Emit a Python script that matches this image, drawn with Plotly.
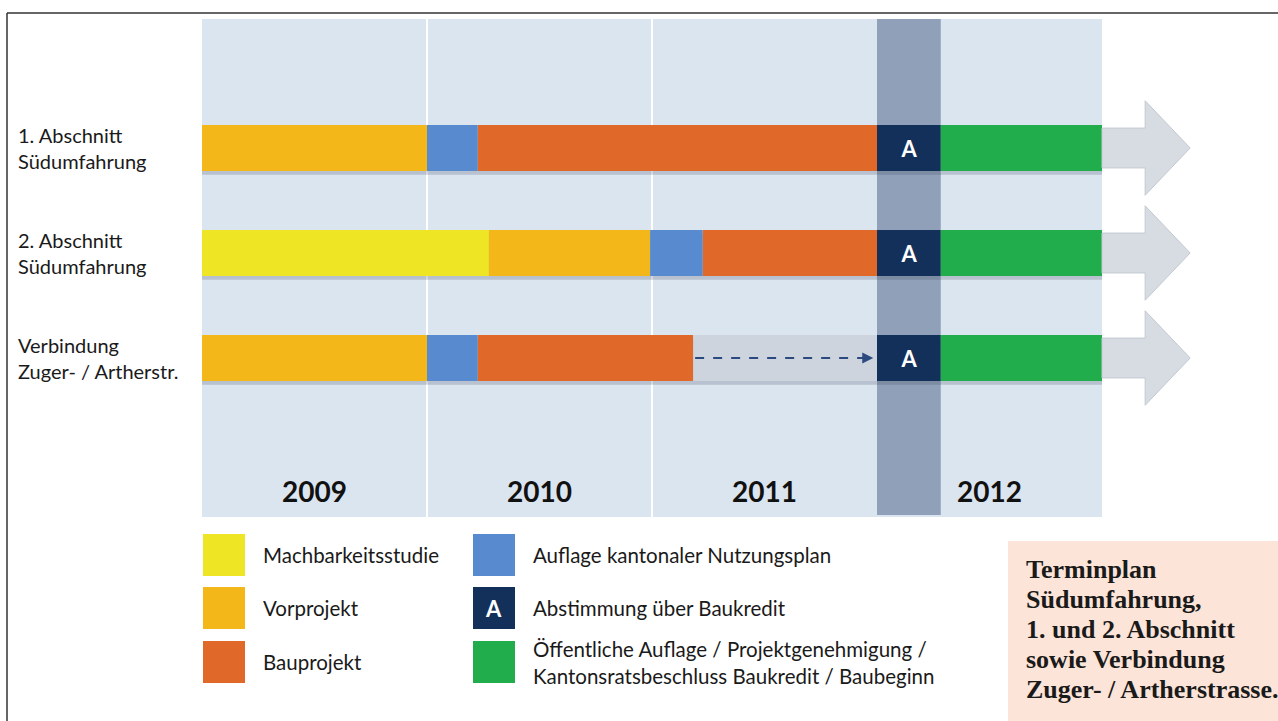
import plotly.graph_objects as go

# ---------------- data ----------------
row_labels = ["1. Abschnitt<br>Südumfahrung",
              "2. Abschnitt<br>Südumfahrung",
              "Verbindung<br>Zuger- / Artherstr."]
years = ["2009", "2010", "2011", "2012"]
year_start_month = [0, 12, 24, 36]

phase_keys = ["Machbarkeit", "Vorprojekt", "Bauprojekt", "Auflage", "Abstimmung", "Oeffentlich", "Warten"]
phase_labels = {
    "Machbarkeit": "Machbarkeitsstudie",
    "Vorprojekt": "Vorprojekt",
    "Bauprojekt": "Bauprojekt",
    "Auflage": "Auflage kantonaler Nutzungsplan",
    "Abstimmung": "Abstimmung über Baukredit",
    "Oeffentlich": "Öffentliche Auflage / Projektgenehmigung /<br>Kantonsratsbeschluss Baukredit / Baubeginn",
}
phase_colors = {
    "Machbarkeit": "#eee625",
    "Vorprojekt": "#f4b71a",
    "Bauprojekt": "#e0692a",
    "Auflage": "#578ace",
    "Abstimmung": "#13305a",
    "Oeffentlich": "#21ad4c",
    "Warten": "#cdd4de",
}

# segments (months since Jan 2009)
seg_row = [0, 0, 0, 0, 0,
           1, 1, 1, 1, 1, 1,
           2, 2, 2, 2, 2, 2]
seg_phase = ["Vorprojekt", "Auflage", "Bauprojekt", "Abstimmung", "Oeffentlich",
             "Machbarkeit", "Vorprojekt", "Auflage", "Bauprojekt", "Abstimmung", "Oeffentlich",
             "Vorprojekt", "Auflage", "Bauprojekt", "Warten", "Abstimmung", "Oeffentlich"]
seg_start = [0, 12, 14.7, 36, 39.4,
             0, 15.3, 23.9, 26.7, 36, 39.4,
             0, 12, 14.7, 26.2, 36, 39.4]
seg_end = [12, 14.7, 36, 39.4, 48,
           15.3, 23.9, 26.7, 36, 39.4, 48,
           12, 14.7, 26.2, 36, 39.4, 48]

vote_start, vote_end = 36, 39.4
timeline_end = 48

caption_lines = ["Terminplan", "Südumfahrung,", "1. und 2. Abschnitt",
                 "sowie Verbindung", "Zuger- / Artherstrasse."]

# ---------------- geometry ----------------
W, H = 1278, 721
PX_PER_MONTH = 18.75
X0_PX = 202
ROW0_PX = 148
ROW_STEP_PX = 105
FONT = "Lato"


def paper_x(px):
    return px / W


def paper_y(py):
    return 1 - py / H


fig = go.Figure()

# subtle shadows under bars
for r in range(len(row_labels)):
    idx = [i for i in range(len(seg_row)) if seg_row[i] == r]
    s = min(seg_start[i] for i in idx)
    e = max(seg_end[i] for i in idx)
    fig.add_trace(go.Bar(
        orientation="h", y=[r + 0.035], base=[s], x=[e - s], width=0.44,
        marker=dict(color="rgba(60,70,90,0.22)", line=dict(width=0)),
        hoverinfo="skip", showlegend=False,
    ))

# bars
for key in phase_keys:
    idx = [i for i, p in enumerate(seg_phase) if p == key]
    if not idx:
        continue
    fig.add_trace(go.Bar(
        orientation="h",
        y=[seg_row[i] for i in idx],
        base=[seg_start[i] for i in idx],
        x=[seg_end[i] - seg_start[i] for i in idx],
        width=0.44,
        marker=dict(color=phase_colors[key], line=dict(width=0)),
        text=["A"] * len(idx) if key == "Abstimmung" else None,
        textposition="inside" if key == "Abstimmung" else "none",
        insidetextanchor="middle",
        textangle=0,
        textfont=dict(color="white", size=22, family=FONT, weight="bold"),
        hoverinfo="skip",
        showlegend=False,
    ))

# continuation arrows
for r in range(len(row_labels)):
    end = max(seg_end[i] for i in range(len(seg_row)) if seg_row[i] == r)
    sh, hh, neck, tip = 0.19, 0.45, end + 2.3, end + 4.7
    fig.add_trace(go.Scatter(
        x=[end, neck, neck, tip, neck, neck, end, end],
        y=[r - sh, r - sh, r - hh, r, r + hh, r + sh, r + sh, r - sh],
        mode="lines", fill="toself", fillcolor="#d7dce3",
        line=dict(color="#c3c9d2", width=1),
        hoverinfo="skip", showlegend=False,
    ))

# dashed waiting arrow (row 3)
wait_idx = seg_phase.index("Warten")
wr, ws, we = seg_row[wait_idx], seg_start[wait_idx], seg_end[wait_idx]
fig.add_trace(go.Scatter(
    x=[ws + 0.1, we - 0.4], y=[wr, wr], mode="lines",
    line=dict(color="#2b4a7f", width=2.2, dash="dash"),
    hoverinfo="skip", showlegend=False,
))
annotations = [dict(
    x=we - 0.2, y=wr, ax=we - 0.9, ay=wr, axref="x", ayref="y", xref="x", yref="y",
    text="", showarrow=True, arrowhead=2, arrowsize=1, arrowwidth=2.2, arrowcolor="#2b4a7f",
)]

shapes = []
# panel background
PANEL_TOP, PANEL_BOT = 19, 517
shapes.append(dict(type="rect", xref="x", yref="paper", x0=0, x1=timeline_end,
                   y0=paper_y(PANEL_BOT), y1=paper_y(PANEL_TOP),
                   fillcolor="#dbe5f0", line=dict(width=0), layer="below"))
# year separators
for m in year_start_month[1:3]:
    shapes.append(dict(type="line", xref="x", yref="paper", x0=m, x1=m,
                       y0=paper_y(PANEL_BOT), y1=paper_y(PANEL_TOP),
                       line=dict(color="white", width=2), layer="below"))
# vote band
shapes.append(dict(type="rect", xref="x", yref="paper", x0=vote_start, x1=vote_end,
                   y0=paper_y(515), y1=paper_y(PANEL_TOP),
                   fillcolor="#8fa0b8", line=dict(width=0), layer="below"))
# frame lines
shapes.append(dict(type="line", xref="paper", yref="paper", x0=paper_x(7), x1=1,
                   y0=paper_y(13), y1=paper_y(13), line=dict(color="#333", width=1.5)))
shapes.append(dict(type="line", xref="paper", yref="paper", x0=paper_x(7), x1=paper_x(7),
                   y0=0, y1=paper_y(13), line=dict(color="#333", width=1.5)))
# caption box
shapes.append(dict(type="rect", xref="paper", yref="paper", x0=paper_x(1008), x1=1,
                   y0=0, y1=paper_y(541), fillcolor="#fce4d8", line=dict(width=0)))

# year labels
for label, m in zip(years, year_start_month):
    annotations.append(dict(x=m + 6, y=paper_y(491), xref="x", yref="paper", text=label,
                            xanchor="center", yanchor="middle", showarrow=False,
                            font=dict(family=FONT, size=28, color="#111", weight="bold")))

# row labels
for r, lab in enumerate(row_labels):
    annotations.append(dict(x=paper_x(16), y=r, xref="paper", yref="y", text=lab, align="left",
                            xanchor="left", yanchor="middle", showarrow=False,
                            font=dict(family=FONT, size=20, color="#1a1a1a")))

# legend
legend_cols = [["Machbarkeit", "Vorprojekt", "Bauprojekt"], ["Auflage", "Abstimmung", "Oeffentlich"]]
col_sq_x = [203, 473]
row_sq_top = [534, 587, 641]
SQ = 42
for c, keys in enumerate(legend_cols):
    for k, key in enumerate(keys):
        x0, y0 = col_sq_x[c], row_sq_top[k]
        shapes.append(dict(type="rect", xref="paper", yref="paper",
                           x0=paper_x(x0), x1=paper_x(x0 + SQ),
                           y0=paper_y(y0 + SQ), y1=paper_y(y0),
                           fillcolor=phase_colors[key], line=dict(width=0)))
        if key == "Abstimmung":
            annotations.append(dict(x=paper_x(x0 + SQ / 2), y=paper_y(y0 + SQ / 2), xref="paper", yref="paper",
                                    text="A", showarrow=False, xanchor="center", yanchor="middle",
                                    font=dict(family=FONT, size=22, color="white", weight="bold")))
        annotations.append(dict(x=paper_x(x0 + 58), y=paper_y(y0 + SQ / 2), xref="paper", yref="paper",
                                text=phase_labels[key], align="left", xanchor="left", yanchor="middle",
                                showarrow=False, font=dict(family=FONT, size=20.5, color="#1a1a1a")))

# caption
for i, line in enumerate(caption_lines):
    annotations.append(dict(x=paper_x(1024), y=paper_y(569 + 30 * i), xref="paper", yref="paper", text=line,
                            align="left", xanchor="left", yanchor="middle", showarrow=False,
                            font=dict(family="Liberation Serif", size=26, color="#1a1a1a", weight="bold")))

fig.update_layout(
    width=W, height=H,
    margin=dict(l=0, r=0, t=0, b=0, pad=0),
    paper_bgcolor="white", plot_bgcolor="rgba(0,0,0,0)",
    barmode="overlay",
    xaxis=dict(range=[-X0_PX / PX_PER_MONTH, (W - X0_PX) / PX_PER_MONTH], visible=False, fixedrange=True),
    yaxis=dict(range=[(H - ROW0_PX) / ROW_STEP_PX, -ROW0_PX / ROW_STEP_PX], visible=False, fixedrange=True),
    shapes=shapes,
    annotations=annotations,
    showlegend=False,
)

fig.write_html("out.html", config={"displayModeBar": False},
               post_script="document.body.style.margin='0';document.body.style.overflow='hidden';")
